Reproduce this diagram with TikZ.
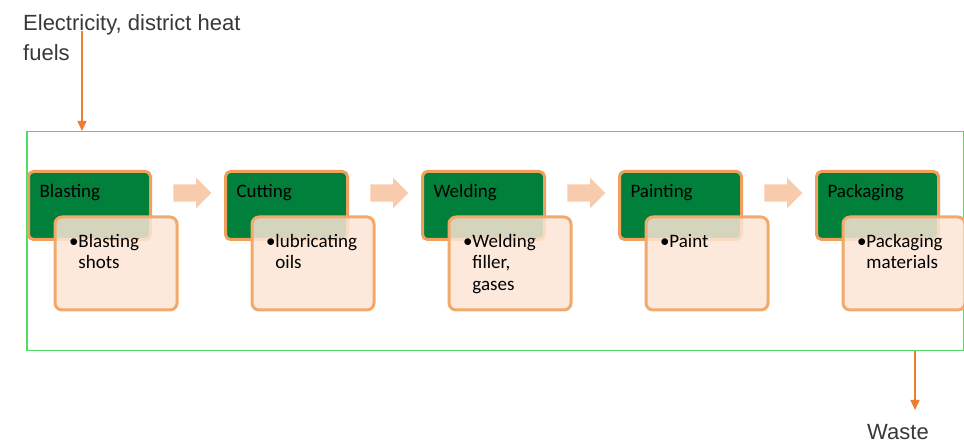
\documentclass[tikz,border=0pt]{standalone}
\usepackage{fontspec}
\setmainfont{Carlito}
\newfontfamily\notefont{Liberation Sans}
\usetikzlibrary{positioning,shapes.arrows,arrows.meta}

\definecolor{stagegreen}{RGB}{0,128,58}
\definecolor{edgeorange}{RGB}{238,160,92}
\definecolor{peach}{RGB}{251,229,214}
\definecolor{chevron}{RGB}{248,203,173}
\definecolor{feedorange}{RGB}{237,125,49}
\definecolor{framegreen}{RGB}{80,220,100}

\newcommand{\itm}[1]{\textbullet\parbox[t]{86pt}{#1}}

\tikzset{
  stage/.style={draw=edgeorange, line width=3pt, rounded corners=5pt, fill=stagegreen, outer sep=0pt,
    anchor=north west, inner xsep=11pt, inner ysep=0pt, text width=100pt, align=left,
    text height=26.5pt, text depth=41.5pt, font=\fontsize{19}{22}\selectfont},
  detail/.style={draw=edgeorange!90, line width=3pt, rounded corners=7pt, fill=peach, fill opacity=0.85,
    text opacity=1, anchor=north west, inner xsep=14pt, inner ysep=0pt, text width=94pt, align=left,
    text height=30.5pt, text depth=62.5pt, font=\fontsize{19}{21.5}\selectfont},
  flow/.style={single arrow, fill=chevron, draw=none, minimum height=38pt, minimum width=30pt,
    inner sep=8.5pt, single arrow head extend=6.5pt, single arrow head indent=0pt},
  feed/.style={draw=feedorange, line width=1.5pt, -{Triangle[width=9pt,length=10pt]}},
  note/.style={inner sep=0pt, text=black!78, font=\notefont\fontsize{22}{30}\selectfont}
}

\begin{document}
\begin{tikzpicture}[x=1pt,y=-1pt]
\useasboundingbox (0,0) rectangle (964,443);

\node[draw=framegreen, line width=1.5pt, anchor=north west, minimum width=937pt, minimum height=219pt, inner sep=0pt] (frame) at (26,131) {};

% process steps
\node[stage] (blast) at (28.5,171.5) {Blasting};
\node[stage, right=75pt of blast] (cut) {Cutting};
\node[stage, right=75pt of cut] (weld) {Welding};
\node[stage, right=75pt of weld] (paint) {Painting};
\node[stage, right=75pt of paint] (pack) {Packaging};

\node[detail] (blastin) at ([shift={(25,44)}]blast.north west) {\itm{Blasting\\shots}};
\node[detail] (cutin) at ([shift={(25,44)}]cut.north west) {\itm{lubricating\\oils}};
\node[detail] (weldin) at ([shift={(25,44)}]weld.north west) {\itm{Welding\\filler,\\gases}};
\node[detail] (paintin) at ([shift={(25,44)}]paint.north west) {\itm{Paint}};
\node[detail] (packin) at ([shift={(25,44)}]pack.north west) {\itm{Packaging\\materials}};

\path (blast.north east) -- node[flow, yshift=-21.5pt] (f1) {} (cut.north west);
\path (cut.north east) -- node[flow, yshift=-21.5pt] (f2) {} (weld.north west);
\path (weld.north east) -- node[flow, yshift=-21.5pt] (f3) {} (paint.north west);
\path (paint.north east) -- node[flow, yshift=-21.5pt] (f4) {} (pack.north west);

% inputs and outputs
\node[note, anchor=north west, align=left] (energy) at (23,14) {Electricity, district heat\\fuels};
\coordinate (tail) at ([shift={(59,17)}]energy.north west);
\draw[feed] (tail) -- (tail |- frame.north);

\coordinate (tip) at (915,410);
\node[note, anchor=base] (waste) at ([shift={(-17,29)}]tip) {Waste};
\draw[feed] (frame.south -| tip) -- (tip);

\end{tikzpicture}
\end{document}
